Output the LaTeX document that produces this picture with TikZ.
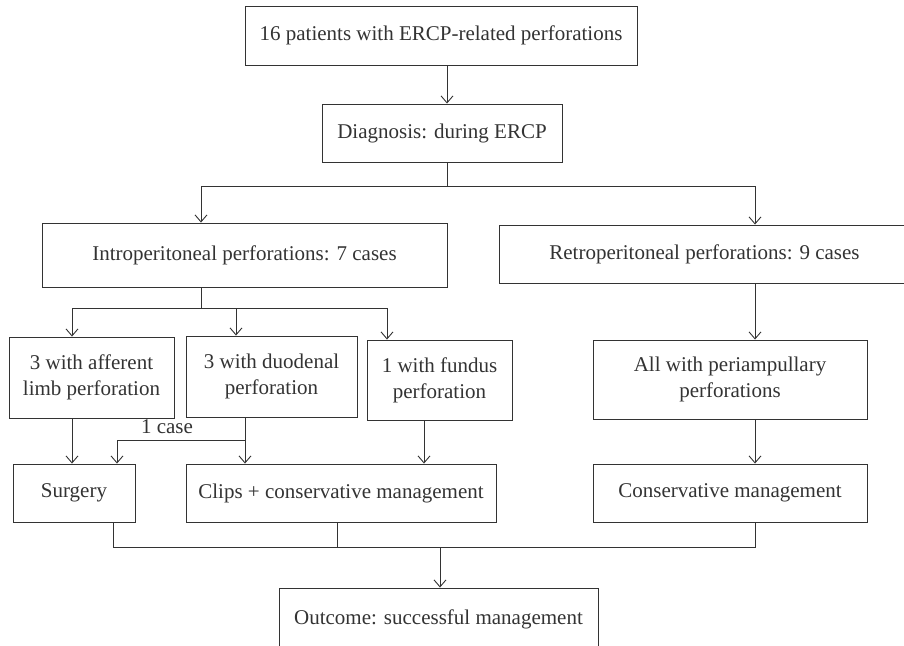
\documentclass[tikz,border=0pt]{standalone}
\usepackage{fontspec}
\setmainfont{Liberation Serif}
\usetikzlibrary{arrows.meta}
\definecolor{ink}{gray}{0.2}
\tikzset{
  box/.style={draw=ink, text=ink, line width=0.9bp, rectangle, inner sep=2bp,
    align=center, font=\fontsize{21bp}{26bp}\selectfont},
  arr/.style={-{Straight Barb[length=7bp,width=12bp]}},
  line/.style={draw=ink, line width=0.9bp}
}
\begin{document}
\begin{tikzpicture}[x=1bp,y=-1bp]
\useasboundingbox (0,0) rectangle (904,646);

% boxes, top to bottom
\node[box, minimum width=392bp, minimum height=59bp] (top) at (441,35.5) {16 patients with ERCP-related perforations};
\node[box, minimum width=240bp, minimum height=58bp] (diag) at (442,133) {Diagnosis: during ERCP};
\node[box, minimum width=405bp, minimum height=64bp] (intro) at (244.5,255) {Introperitoneal perforations: 7 cases};
\node[box, minimum width=411bp, minimum height=58bp] (retro) at (704.5,254) {Retroperitoneal perforations: 9 cases};
\node[box, minimum width=165bp, minimum height=81bp] (afferent) at (91.5,377.5) {3 with afferent\\limb perforation};
\node[box, minimum width=171bp, minimum height=81bp] (duodenal) at (271.5,376.5) {3 with duodenal\\perforation};
\node[box, minimum width=145bp, minimum height=80bp] (fundus) at (439.5,380) {1 with fundus\\perforation};
\node[box, minimum width=274bp, minimum height=79bp] (allwith) at (730,379.5) {All with periampullary\\perforations};
\node[box, minimum width=122bp, minimum height=58bp] (surgery) at (74,493) {Surgery};
\node[box, minimum width=310bp, minimum height=58bp] (clips) at (341,493) {Clips + conservative management};
\node[box, minimum width=274bp, minimum height=58bp] (conserv) at (730,493) {Conservative management};
\node[box, minimum width=319bp, minimum height=66bp, text depth=8bp] (outcome) at (438.5,621) {Outcome: successful management};
\node[text=ink, font=\fontsize{21bp}{26bp}\selectfont, inner sep=0pt] (onecase) at (167,427) {1 case};

% junction points
\coordinate (s1) at (447,186);
\coordinate (s2) at (201,308);
\coordinate (s3) at (245,440);
\coordinate (s4) at (440,547);
\coordinate (s5) at (755,547);
\coordinate (s6) at (113,547);
\coordinate (s7) at (337,547);
\coordinate (s9) at (117,440);
\coordinate (aff) at (72,308);
\coordinate (duo) at (236,308);
\coordinate (fun) at (387,308);
\coordinate (fd) at (424,440);

% connectors
\draw[line, arr] (top.south -| s1) -- (diag.north -| s1);
\draw[line] (diag.south -| s1) -- (s1);
\draw[line, arr] (s1) -| (intro.north -| s2);
\draw[line, arr] (s1) -| (retro.north -| s5);
\draw[line] (intro.south -| s2) -- (s2);
\draw[line] (aff) -- (fun);
\draw[line, arr] (aff) -- (afferent.north -| aff);
\draw[line, arr] (duo) -- (duodenal.north -| duo);
\draw[line, arr] (fun) -- (fundus.north -| fun);
\draw[line, arr] (afferent.south -| aff) -- (surgery.north -| aff);
\draw[line, arr] (duodenal.south -| s3) -- (clips.north -| s3);
\draw[line, arr] (s3) -- (s9) -- (surgery.north -| s9);
\draw[line, arr] (fundus.south -| fd) -- (clips.north -| fd);
\draw[line, arr] (retro.south -| s5) -- (allwith.north -| s5);
\draw[line, arr] (allwith.south -| s5) -- (conserv.north -| s5);
\draw[line] (surgery.south -| s6) -- (s6) -- (s5) -- (conserv.south -| s5);
\draw[line] (clips.south -| s7) -- (s7);
\draw[line, arr] (s4) -- (outcome.north -| s4);

\end{tikzpicture}
\end{document}
